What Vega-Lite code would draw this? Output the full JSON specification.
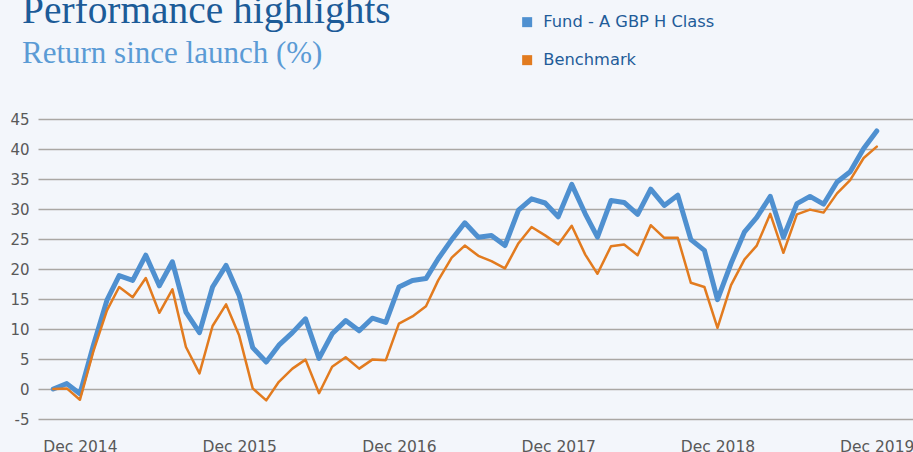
{
  "$schema": "https://vega.github.io/schema/vega-lite/v6.json",
  "autosize": "none",
  "width": 875,
  "height": 300,
  "padding": {"left": 38, "top": 119, "right": 0, "bottom": 33},
  "background": "#f3f6fb",
  "title": {
    "text": "Performance highlights",
    "subtitle": "Return since launch (%)",
    "anchor": "start",
    "frame": "group",
    "dx": -16,
    "offset": -56,
    "font": "Liberation Serif",
    "fontSize": 39.4,
    "fontWeight": "normal",
    "color": "#1c5b98",
    "subtitleFont": "Liberation Serif",
    "subtitleFontSize": 31,
    "subtitleColor": "#5b9bd5",
    "subtitlePadding": 8
  },
  "data": {
    "values": [
      {"month": "2014-10-01", "Fund - A GBP H Class": 0.0, "Benchmark": 0.0},
      {"month": "2014-11-01", "Fund - A GBP H Class": 0.9, "Benchmark": 0.1},
      {"month": "2014-12-01", "Fund - A GBP H Class": -0.8, "Benchmark": -1.8},
      {"month": "2015-01-01", "Fund - A GBP H Class": 7.3, "Benchmark": 6.3},
      {"month": "2015-02-01", "Fund - A GBP H Class": 14.8, "Benchmark": 13.1},
      {"month": "2015-03-01", "Fund - A GBP H Class": 18.9, "Benchmark": 17.0},
      {"month": "2015-04-01", "Fund - A GBP H Class": 18.1, "Benchmark": 15.3},
      {"month": "2015-05-01", "Fund - A GBP H Class": 22.3, "Benchmark": 18.5},
      {"month": "2015-06-01", "Fund - A GBP H Class": 17.2, "Benchmark": 12.7},
      {"month": "2015-07-01", "Fund - A GBP H Class": 21.2, "Benchmark": 16.6},
      {"month": "2015-08-01", "Fund - A GBP H Class": 12.8, "Benchmark": 7.0},
      {"month": "2015-09-01", "Fund - A GBP H Class": 9.4, "Benchmark": 2.6},
      {"month": "2015-10-01", "Fund - A GBP H Class": 17.0, "Benchmark": 10.5},
      {"month": "2015-11-01", "Fund - A GBP H Class": 20.6, "Benchmark": 14.1},
      {"month": "2015-12-01", "Fund - A GBP H Class": 15.6, "Benchmark": 8.9},
      {"month": "2016-01-01", "Fund - A GBP H Class": 6.9, "Benchmark": 0.1},
      {"month": "2016-02-01", "Fund - A GBP H Class": 4.5, "Benchmark": -1.9},
      {"month": "2016-03-01", "Fund - A GBP H Class": 7.3, "Benchmark": 1.2},
      {"month": "2016-04-01", "Fund - A GBP H Class": 9.4, "Benchmark": 3.4},
      {"month": "2016-05-01", "Fund - A GBP H Class": 11.7, "Benchmark": 4.9},
      {"month": "2016-06-01", "Fund - A GBP H Class": 5.1, "Benchmark": -0.7},
      {"month": "2016-07-01", "Fund - A GBP H Class": 9.2, "Benchmark": 3.7},
      {"month": "2016-08-01", "Fund - A GBP H Class": 11.4, "Benchmark": 5.3},
      {"month": "2016-09-01", "Fund - A GBP H Class": 9.7, "Benchmark": 3.4},
      {"month": "2016-10-01", "Fund - A GBP H Class": 11.8, "Benchmark": 4.9},
      {"month": "2016-11-01", "Fund - A GBP H Class": 11.1, "Benchmark": 4.8},
      {"month": "2016-12-01", "Fund - A GBP H Class": 17.0, "Benchmark": 10.9},
      {"month": "2017-01-01", "Fund - A GBP H Class": 18.1, "Benchmark": 12.1},
      {"month": "2017-02-01", "Fund - A GBP H Class": 18.4, "Benchmark": 13.8},
      {"month": "2017-03-01", "Fund - A GBP H Class": 21.7, "Benchmark": 18.1},
      {"month": "2017-04-01", "Fund - A GBP H Class": 24.9, "Benchmark": 21.9},
      {"month": "2017-05-01", "Fund - A GBP H Class": 27.7, "Benchmark": 23.9},
      {"month": "2017-06-01", "Fund - A GBP H Class": 25.3, "Benchmark": 22.2},
      {"month": "2017-07-01", "Fund - A GBP H Class": 25.6, "Benchmark": 21.3},
      {"month": "2017-08-01", "Fund - A GBP H Class": 23.9, "Benchmark": 20.1},
      {"month": "2017-09-01", "Fund - A GBP H Class": 29.8, "Benchmark": 24.3},
      {"month": "2017-10-01", "Fund - A GBP H Class": 31.7, "Benchmark": 27.0},
      {"month": "2017-11-01", "Fund - A GBP H Class": 31.0, "Benchmark": 25.6},
      {"month": "2017-12-01", "Fund - A GBP H Class": 28.7, "Benchmark": 24.1},
      {"month": "2018-01-01", "Fund - A GBP H Class": 34.1, "Benchmark": 27.2},
      {"month": "2018-02-01", "Fund - A GBP H Class": 29.2, "Benchmark": 22.4},
      {"month": "2018-03-01", "Fund - A GBP H Class": 25.3, "Benchmark": 19.2},
      {"month": "2018-04-01", "Fund - A GBP H Class": 31.4, "Benchmark": 23.8},
      {"month": "2018-05-01", "Fund - A GBP H Class": 31.1, "Benchmark": 24.1},
      {"month": "2018-06-01", "Fund - A GBP H Class": 29.1, "Benchmark": 22.3},
      {"month": "2018-07-01", "Fund - A GBP H Class": 33.3, "Benchmark": 27.3},
      {"month": "2018-08-01", "Fund - A GBP H Class": 30.6, "Benchmark": 25.2},
      {"month": "2018-09-01", "Fund - A GBP H Class": 32.3, "Benchmark": 25.2},
      {"month": "2018-10-01", "Fund - A GBP H Class": 24.9, "Benchmark": 17.7},
      {"month": "2018-11-01", "Fund - A GBP H Class": 23.1, "Benchmark": 17.0},
      {"month": "2018-12-01", "Fund - A GBP H Class": 14.9, "Benchmark": 10.2},
      {"month": "2019-01-01", "Fund - A GBP H Class": 20.9, "Benchmark": 17.3},
      {"month": "2019-02-01", "Fund - A GBP H Class": 26.2, "Benchmark": 21.6},
      {"month": "2019-03-01", "Fund - A GBP H Class": 28.6, "Benchmark": 23.9},
      {"month": "2019-04-01", "Fund - A GBP H Class": 32.1, "Benchmark": 29.2},
      {"month": "2019-05-01", "Fund - A GBP H Class": 25.3, "Benchmark": 22.7},
      {"month": "2019-06-01", "Fund - A GBP H Class": 30.9, "Benchmark": 29.1},
      {"month": "2019-07-01", "Fund - A GBP H Class": 32.1, "Benchmark": 29.9},
      {"month": "2019-08-01", "Fund - A GBP H Class": 30.8, "Benchmark": 29.4},
      {"month": "2019-09-01", "Fund - A GBP H Class": 34.5, "Benchmark": 32.6},
      {"month": "2019-10-01", "Fund - A GBP H Class": 36.2, "Benchmark": 34.8},
      {"month": "2019-11-01", "Fund - A GBP H Class": 40.1, "Benchmark": 38.5},
      {"month": "2019-12-01", "Fund - A GBP H Class": 43.0, "Benchmark": 40.4}
    ]
  },
  "transform": [
    {"fold": ["Fund - A GBP H Class", "Benchmark"], "as": ["series", "value"]}
  ],
  "encoding": {
    "x": {
      "field": "month",
      "type": "temporal",
      "scale": {
        "type": "utc",
        "domain": [
          {"year": 2014, "month": 8, "date": 27, "utc": true},
          {"year": 2020, "month": 2, "date": 22, "utc": true}
        ]
      },
      "axis": {
        "title": null,
        "values": [
          {"year": 2014, "month": 12, "date": 1, "utc": true},
          {"year": 2015, "month": 12, "date": 1, "utc": true},
          {"year": 2016, "month": 12, "date": 1, "utc": true},
          {"year": 2017, "month": 12, "date": 1, "utc": true},
          {"year": 2018, "month": 12, "date": 1, "utc": true},
          {"year": 2019, "month": 12, "date": 1, "utc": true}
        ],
        "format": "%b %Y",
        "grid": false,
        "domain": false,
        "ticks": false,
        "labelPadding": 20,
        "labelFont": "DejaVu Sans",
        "labelFontSize": 15.5,
        "labelColor": "#595959",
        "labelOverlap": false,
        "labelBound": false,
        "labelFlush": false,
        "labelAlign": "center"
      }
    },
    "y": {
      "field": "value",
      "type": "quantitative",
      "scale": {"domain": [-5, 45], "nice": false, "zero": false},
      "axis": {
        "title": null,
        "values": [-5, 0, 5, 10, 15, 20, 25, 30, 35, 40, 45],
        "labelExpr": "'' + datum.value",
        "grid": true,
        "gridColor": "#aaa7a4",
        "gridWidth": 1.3,
        "domain": false,
        "ticks": false,
        "labelPadding": 9,
        "labelFont": "DejaVu Sans",
        "labelFontSize": 15,
        "labelColor": "#595959"
      }
    },
    "color": {
      "field": "series",
      "type": "nominal",
      "scale": {
        "domain": ["Fund - A GBP H Class", "Benchmark"],
        "range": ["#4f90d0", "#e27b1f"]
      },
      "legend": {
        "title": null,
        "orient": "none",
        "legendX": 481,
        "legendY": -105,
        "direction": "vertical",
        "padding": 0,
        "symbolType": "square",
        "symbolSize": 100,
        "labelFont": "DejaVu Sans",
        "labelFontSize": 16.3,
        "labelColor": "#1f5c99",
        "labelLimit": 400,
        "labelOffset": 8,
        "rowPadding": 21,
        "encode": {
          "symbols": {
            "update": {
              "fill": {"scale": "color", "field": "value"},
              "strokeWidth": {"value": 0}
            }
          }
        }
      }
    }
  },
  "layer": [
    {
      "transform": [{"filter": {"field": "series", "equal": "Fund - A GBP H Class"}}],
      "mark": {"type": "line", "strokeWidth": 5, "strokeJoin": "round", "strokeCap": "round"}
    },
    {
      "transform": [{"filter": {"field": "series", "equal": "Benchmark"}}],
      "mark": {"type": "line", "strokeWidth": 2.5, "strokeJoin": "round", "strokeCap": "round"}
    }
  ],
  "config": {
    "view": {"stroke": null}
  }
}
